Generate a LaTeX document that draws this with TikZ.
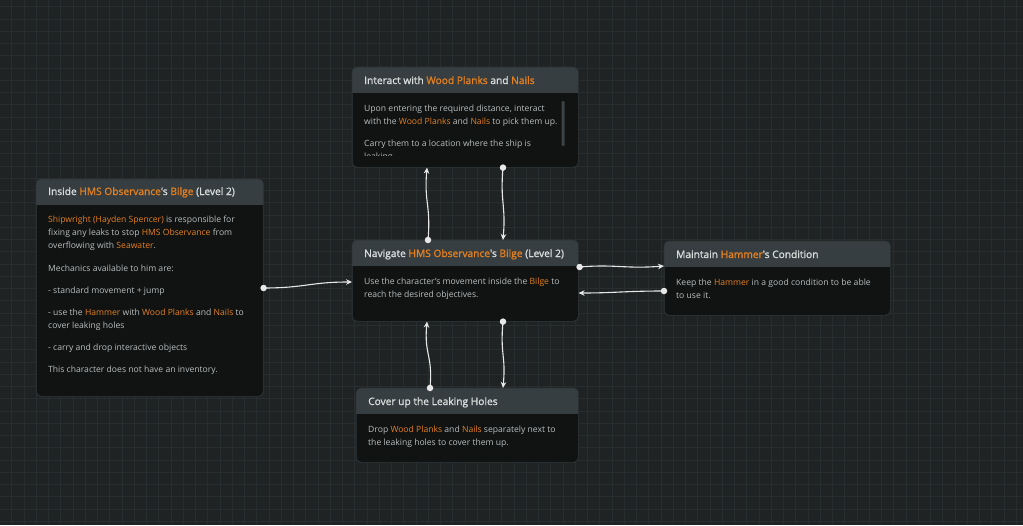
\documentclass[tikz,border=0pt]{standalone}
\usepackage{fontspec}
\setmainfont{Open Sans}
\newfontfamily\titlefont[FakeBold=1.3]{Open Sans}
\usetikzlibrary{arrows.meta,calc}
\definecolor{bg}{HTML}{1F2324}
\definecolor{gridc}{HTML}{282D2F}
\definecolor{panelbody}{HTML}{111313}
\definecolor{panelhead}{HTML}{373E41}
\definecolor{paneledge}{HTML}{2C3234}
\definecolor{titletext}{HTML}{D8DCDC}
\definecolor{bodytext}{HTML}{B9BDBD}
\definecolor{orangehl}{HTML}{E5801E}
\definecolor{wire}{HTML}{E8E8E8}
\definecolor{scrollc}{HTML}{3C4244}
\newcommand{\hl}[1]{\textcolor{orangehl}{#1}}
\tikzset{
  panel/.style={draw=paneledge, line width=0.6pt, fill=panelbody, rounded corners=5pt, inner sep=0pt, anchor=north west},
  ttl/.style={anchor=base west, text=titletext, font=\titlefont\fontsize{10.2}{12}\selectfont, inner sep=0pt},
  txt/.style={anchor=base west, text=bodytext, font=\fontsize{8.6}{10}\selectfont, inner sep=0pt},
  link/.style={draw=wire, line width=1.1pt, -{Stealth[length=6pt,width=5.5pt]}},
  dotc/.style={circle, fill=wire, inner sep=0pt, minimum size=6.5pt},
}
\newcommand{\header}[2]{%
  \begin{scope}
    \clip[rounded corners=5pt] (#1.north west) rectangle (#1.south east);
    \fill[panelhead] (#1.north west) rectangle ($(#1.north east)+(0,#2)$);
  \end{scope}
  \draw[paneledge, line width=0.6pt, rounded corners=5pt] (#1.north west) rectangle (#1.south east);
}
\begin{document}
\begin{tikzpicture}[x=1pt,y=-1pt]
\useasboundingbox (0,0) rectangle (1023,525);
\fill[bg] (0,0) rectangle (1023,525);
\foreach \i in {0,...,84} {\draw[gridc, line width=0.7pt] ({\i*12.25-0.5},0) -- ++(0,525);}
\foreach \j in {0,...,43} {\draw[gridc, line width=0.7pt] (0,{\j*12.25+6.75}) -- ++(1023,0);}

% panels
\node[panel, minimum width=227pt, minimum height=217pt] (inside) at (36,179) {};
\header{inside}{26}
\node[panel, minimum width=226pt, minimum height=100pt] (interact) at (352,67) {};
\header{interact}{26}
\node[panel, minimum width=226pt, minimum height=81pt] (nav) at (352,240) {};
\header{nav}{26}
\node[panel, minimum width=226pt, minimum height=74pt] (maint) at (664,241) {};
\header{maint}{26}
\node[panel, minimum width=222pt, minimum height=74pt] (cover) at (356,388) {};
\header{cover}{26}

% left panel text
\node[ttl] (t1) at (48,195) {Inside \hl{HMS Observance}'s \hl{Bilge} (Level 2)};
\node[txt] (l1a) at (48,222) {\hl{Shipwright (Hayden Spencer)} is responsible for};
\node[txt] (l1b) at (48,235) {fixing any leaks to stop \hl{HMS Observance} from};
\node[txt] (l1c) at (48,248) {overflowing with \hl{Seawater}.};
\node[txt] (l1d) at (48,271) {Mechanics available to him are:};
\node[txt] (l1e) at (48,293) {- standard movement + jump};
\node[txt] (l1f) at (48,315) {- use the \hl{Hammer} with \hl{Wood Planks} and \hl{Nails} to};
\node[txt] (l1g) at (48,328) {cover leaking holes};
\node[txt] (l1h) at (48,350) {- carry and drop interactive objects};
\node[txt] (l1i) at (48,372) {This character does not have an inventory.};

% interact panel text
\node[ttl] (t2) at (364,84) {Interact with \hl{Wood Planks} and \hl{Nails}};
\begin{scope}
\clip (352,93) rectangle (578,155);
\node[txt] (l2a) at (364,111) {Upon entering the required distance, interact};
\node[txt] (l2b) at (364,124) {with the \hl{Wood Planks} and \hl{Nails} to pick them up.};
\node[txt] (l2c) at (364,146) {Carry them to a location where the ship is};
\node[txt] (l2d) at (364,159) {leaking.};
\end{scope}
\fill[scrollc, rounded corners=1pt] (561.5,101) rectangle (564.5,146);

% navigate panel text
\node[ttl] (t3) at (364,257) {Navigate \hl{HMS Observance}'s \hl{Bilge} (Level 2)};
\node[txt] (l3a) at (364,284) {Use the character's movement inside the \hl{Bilge} to};
\node[txt] (l3b) at (364,297) {reach the desired objectives.};

% maintain panel text
\node[ttl] (t4) at (676,258) {Maintain \hl{Hammer}'s Condition};
\node[txt] (l4a) at (676,285) {Keep the \hl{Hammer} in a good condition to be able};
\node[txt] (l4b) at (676,298) {to use it.};

% cover panel text
\node[ttl] (t5) at (368,405) {Cover up the Leaking Holes};
\node[txt] (l5a) at (368,432) {Drop \hl{Wood Planks} and \hl{Nails} separately next to};
\node[txt] (l5b) at (368,445) {the leaking holes to cover them up.};

% connection points
\coordinate (p1s) at ($(inside.north east)+(0,109)$);
\coordinate (p1e) at ($(nav.north west)+(0,42)$);
\coordinate (p2s) at ($(nav.north west)+(76,0)$);
\coordinate (p2e) at ($(interact.south west)+(75,0)$);
\coordinate (p3s) at ($(interact.south west)+(151,0)$);
\coordinate (p3e) at ($(nav.north west)+(151,0)$);
\coordinate (p4s) at ($(nav.north east)+(1,27)$);
\coordinate (p4e) at ($(maint.north west)+(0,25)$);
\coordinate (p5s) at ($(maint.north west)+(0,50)$);
\coordinate (p5e) at ($(nav.north east)+(0,53)$);
\coordinate (p6s) at ($(cover.north west)+(74,0)$);
\coordinate (p6e) at ($(nav.south west)+(75,0)$);
\coordinate (p7s) at ($(nav.south west)+(151,0)$);
\coordinate (p7e) at ($(cover.north west)+(147,0)$);

\draw[link] (p1s) .. controls (305,288) and (310,282) .. (p1e);
\draw[link] (p2s) .. controls (431,205) and (424,203) .. (p2e);
\draw[link] (p3s) .. controls (500,202) and (506,205) .. (p3e);
\draw[link] (p4s) .. controls (615,264) and (625,269) .. (p4e);
\draw[link] (p5s) .. controls (625,291) and (615,293) .. (p5e);
\draw[link] (p6s) .. controls (433,355) and (424,355) .. (p6e);
\draw[link] (p7s) .. controls (500,355) and (506,355) .. (p7e);

\foreach \p in {p1s,p2s,p3s,p4s,p5s,p6s,p7s} {\node[dotc] at (\p) {};}
\end{tikzpicture}
\end{document}
